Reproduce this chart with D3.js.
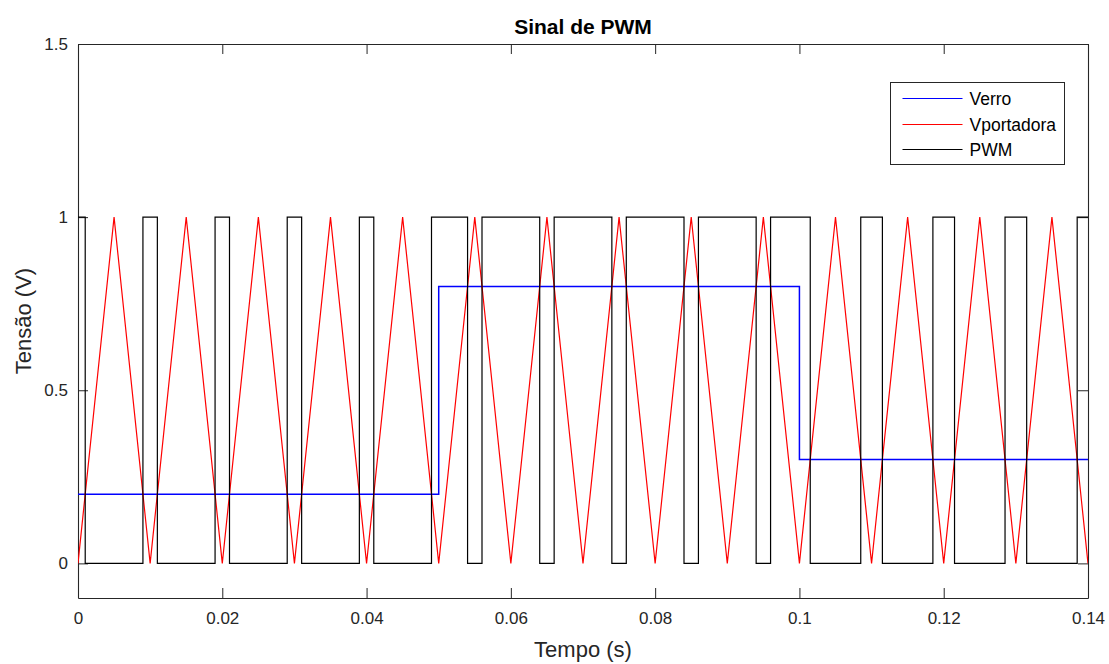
<!DOCTYPE html>
<html>
<head>
<meta charset="utf-8">
<title>Sinal de PWM</title>
<script src="https://d3js.org/d3.v7.min.js"></script>
<style>
  body { margin:0; background:#fff; }
  text { font-family: "Liberation Sans", Arial, sans-serif; fill:#262626; }
  .axis path, .axis line { stroke:#262626; }
</style>
</head>
<body>
<div id="chart"></div>
<script>
// time axis ticks
var xTicks = [0, 0.02, 0.04, 0.06, 0.08, 0.1, 0.12, 0.14];
var xTickLabels = ["0", "0.02", "0.04", "0.06", "0.08", "0.1", "0.12", "0.14"];
var yTicks = [0, 0.5, 1, 1.5];
var yTickLabels = ["0", "0.5", "1", "1.5"];

// Verro (step signal)
var errTime = [0, 0.05, 0.1, 0.14];
var errVal = [0.2, 0.8, 0.3, 0.3];

// Vportadora (triangle carrier, vertices)
var carTime = [0, 0.005, 0.01, 0.015, 0.02, 0.025, 0.03, 0.035, 0.04, 0.045, 0.05, 0.055, 0.06, 0.065, 0.07,
               0.075, 0.08, 0.085, 0.09, 0.095, 0.1, 0.105, 0.11, 0.115, 0.12, 0.125, 0.13, 0.135, 0.14];
var carVal = [0, 1, 0, 1, 0, 1, 0, 1, 0, 1, 0, 1, 0, 1, 0,
              1, 0, 1, 0, 1, 0, 1, 0, 1, 0, 1, 0, 1, 0];

// PWM switching instants and level after each one
var pwmTime = [0, 0.001, 0.009, 0.011, 0.019, 0.021, 0.029, 0.031, 0.039, 0.041, 0.049, 0.054,
               0.056, 0.064, 0.066, 0.074, 0.076, 0.084, 0.086, 0.094, 0.096, 0.1015,
               0.1085, 0.1115, 0.1185, 0.1215, 0.1285, 0.1315, 0.1385, 0.14];
var pwmVal = [1, 0, 1, 0, 1, 0, 1, 0, 1, 0, 1, 0,
              1, 0, 1, 0, 1, 0, 1, 0, 1, 0,
              1, 0, 1, 0, 1, 0, 1, 1];

var seriesNames = ["Verro", "Vportadora", "PWM"];
var seriesColors = ["#0000ff", "#ff0000", "#000000"];

const svgWidth = 1109;
const svgHeight = 664;
const padLeft = 78, padRight = 1088, padTop = 44, padBottom = 598;

const svg = d3.select("#chart")
    .append("svg")
    .attr("width", svgWidth)
    .attr("height", svgHeight);

var xScale = d3.scaleLinear().domain([0, 0.14]).range([padLeft, padRight]);
var yScale = d3.scaleLinear().domain([-0.1, 1.5]).range([padBottom, padTop]);

function zipped(t, v) {
    return t.map((d, i) => [d, v[i]]);
}

// axes, MATLAB style: ticks pointing inward on all four sides
var xAxis = d3.axisBottom(xScale).tickValues(xTicks).tickSizeInner(-10).tickSizeOuter(0)
    .tickPadding(14).tickFormat((d, i) => xTickLabels[i]);
var yAxis = d3.axisLeft(yScale).tickValues(yTicks).tickSizeInner(-10).tickSizeOuter(0)
    .tickPadding(10).tickFormat((d, i) => yTickLabels[i]);

svg.append("g").attr("class", "axis")
    .attr("transform", "translate(0," + padBottom + ")")
    .call(xAxis)
    .selectAll("text").style("font-size", "17px");
svg.append("g").attr("class", "axis")
    .attr("transform", "translate(0," + padTop + ")")
    .call(d3.axisTop(xScale).tickValues(xTicks).tickSizeInner(-10).tickSizeOuter(0).tickFormat(""));
svg.append("g").attr("class", "axis")
    .attr("transform", "translate(" + padLeft + ",0)")
    .call(yAxis)
    .selectAll("text").style("font-size", "17px");
svg.append("g").attr("class", "axis")
    .attr("transform", "translate(" + padRight + ",0)")
    .call(d3.axisRight(yScale).tickValues(yTicks).tickSizeInner(-10).tickSizeOuter(0).tickFormat(""));
svg.selectAll(".axis path").attr("stroke-width", 1.1);

// clip so lines stay inside the box
svg.append("clipPath").attr("id", "clip")
    .append("rect").attr("x", padLeft).attr("y", padTop)
    .attr("width", padRight - padLeft).attr("height", padBottom - padTop);

var stepLine = d3.line().x(d => xScale(d[0])).y(d => yScale(d[1])).curve(d3.curveStepAfter);
var polyLine = d3.line().x(d => xScale(d[0])).y(d => yScale(d[1]));

var plot = svg.append("g").attr("clip-path", "url(#clip)");
plot.append("path")
    .attr("d", stepLine(zipped(errTime, errVal)))
    .attr("fill", "none").attr("stroke", seriesColors[0]).attr("stroke-width", 1.5);
plot.append("path")
    .attr("d", polyLine(zipped(carTime, carVal)))
    .attr("fill", "none").attr("stroke", seriesColors[1]).attr("stroke-width", 1.2);
plot.append("path")
    .attr("d", stepLine(zipped(pwmTime, pwmVal)))
    .attr("fill", "none").attr("stroke", seriesColors[2]).attr("stroke-width", 1.2);

// title and axis labels
svg.append("text")
    .attr("x", (padLeft + padRight) / 2).attr("y", 34)
    .style("text-anchor", "middle").style("font-size", "21px").style("font-weight", "bold")
    .style("fill", "#000")
    .text("Sinal de PWM");
svg.append("text")
    .attr("x", (padLeft + padRight) / 2).attr("y", 657)
    .style("text-anchor", "middle").style("font-size", "22px")
    .text("Tempo (s)");
svg.append("text")
    .attr("transform", "translate(31," + ((padTop + padBottom) / 2) + ") rotate(-90)")
    .style("text-anchor", "middle").style("font-size", "22px")
    .text("Tensão (V)");

// legend
var legend = svg.append("g").attr("transform", "translate(890.5,82.5)");
legend.append("rect")
    .attr("width", 174).attr("height", 82)
    .attr("fill", "#fff").attr("stroke", "#262626").attr("stroke-width", 1);
seriesNames.forEach((name, i) => {
    var ly = 16 + Math.round(i * 25.5);
    legend.append("line")
        .attr("x1", 12).attr("x2", 72)
        .attr("y1", ly).attr("y2", ly)
        .attr("stroke", seriesColors[i]).attr("stroke-width", 1.2);
    legend.append("text")
        .attr("x", 79).attr("y", ly).attr("dy", "0.35em")
        .style("font-size", "17.5px").style("fill", "#000")
        .text(name);
});
</script>
</body>
</html>
